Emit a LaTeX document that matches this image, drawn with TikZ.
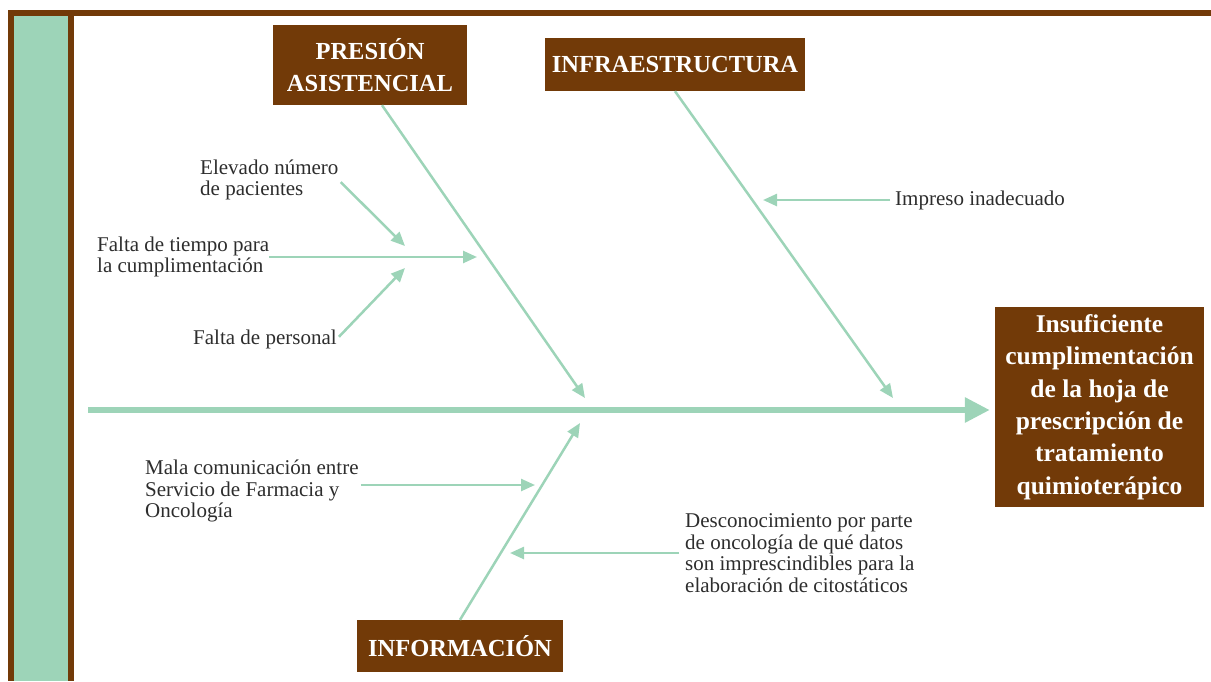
\documentclass[tikz,border=0pt]{standalone}
\usepackage{fontspec}
\setmainfont{Liberation Serif}
\usetikzlibrary{arrows.meta}
\definecolor{ishbrown}{RGB}{114,58,8}
\definecolor{ishgreen}{RGB}{157,212,184}
\definecolor{ishtext}{RGB}{45,45,45}

\begin{document}
\begin{tikzpicture}[x=1pt,y=-1pt,
                titlebox/.style={
                    fill=ishbrown,
                    text=white,
                    inner sep=0pt,
                    align=center,
                    font=\fontsize{24.5}{32}\selectfont\bfseries
                },
                effectbox/.style={
                    titlebox,
                    minimum width=209pt,
                    minimum height=200pt,
                    font=\fontsize{25.5}{32.3}\selectfont\bfseries
                },
                cause/.style={
                    text=ishtext,
                    inner sep=0pt,
                    align=left,
                    font=\fontsize{21}{21.5}\selectfont
                },
                spine/.style={
                    draw=ishgreen,
                    line width=6pt,
                    -{Triangle[length=25pt,width=24pt]}
                },
                bone/.style={
                    draw=ishgreen,
                    line width=2.5pt,
                    -{Triangle[length=14pt,width=12pt]}
                }
            ]
                \useasboundingbox (0,0) rectangle (1211,681);

                % frame
                \fill[ishbrown] (8,10) rectangle (1211,16);
                \fill[ishbrown] (8,10) rectangle (74,681);
                \fill[ishgreen] (14,16) rectangle (68,681);

                % categories and effect
                \node[titlebox, minimum width=194pt, minimum height=80pt] (presion) at (370,65) {PRESIÓN\\ASISTENCIAL};
                \node[titlebox, minimum width=260pt, minimum height=53pt] (infra) at (675,64.5) {INFRAESTRUCTURA};
                \node[titlebox, minimum width=206pt, minimum height=52pt] (info) at (460,646) {INFORMACIÓN};
                \node[effectbox] (effect) at (1099.5,407) {Insuficiente\\cumplimentación\\de la hoja de\\prescripción de\\tratamiento\\quimioterápico};

                % causes
                \node[cause, anchor=west] (elevado) at (200,180) {Elevado número\\de pacientes};
                \node[cause, anchor=west] (tiempo) at (97,257) {Falta de tiempo para\\la cumplimentación};
                \node[cause, anchor=west] (personal) at (193,339) {Falta de personal};
                \node[cause, anchor=west] (impreso) at (895,200) {Impreso inadecuado};
                \node[cause, anchor=west] (mala) at (145,491) {Mala comunicación entre\\Servicio de Farmacia y\\Oncología};
                \node[cause, anchor=west] (descon) at (685,553) {Desconocimiento por parte\\de oncología de qué datos\\son imprescindibles para la\\elaboración de citostáticos};

                % arrow ends
                \coordinate (tail) at (88,410);
                \coordinate (presion tip) at (585,398);
                \coordinate (infra tip) at (893,398);
                \coordinate (info tip) at (580,423);
                \coordinate (elevado tip) at (405,246);
                \coordinate (tiempo tip) at (477,257);
                \coordinate (personal tip) at (405,268);
                \coordinate (impreso tip) at (763,200);
                \coordinate (mala tip) at (535,485);
                \coordinate (descon tip) at (510,553);

                \draw[spine, shorten >=5pt] (tail) -- (tail -| effect.west);
                \draw[bone] ([xshift=12pt]presion.south) -- (presion tip);
                \draw[bone] (infra.south) -- (infra tip);
                \draw[bone] (info.north) -- (info tip);
                \draw[bone, shorten <=3pt] (elevado.east) -- (elevado tip);
                \draw[bone] (tiempo.east) -- (tiempo tip);
                \draw[bone, shorten <=3pt] (personal.east) -- (personal tip);
                \draw[bone, shorten <=5pt] (impreso.west) -- (impreso tip);
                \draw[bone, shorten <=2pt] ([yshift=6pt]mala.east) -- (mala tip);
                \draw[bone, shorten <=6pt] (descon.west) -- (descon tip);
        \end{tikzpicture}
\end{document}
